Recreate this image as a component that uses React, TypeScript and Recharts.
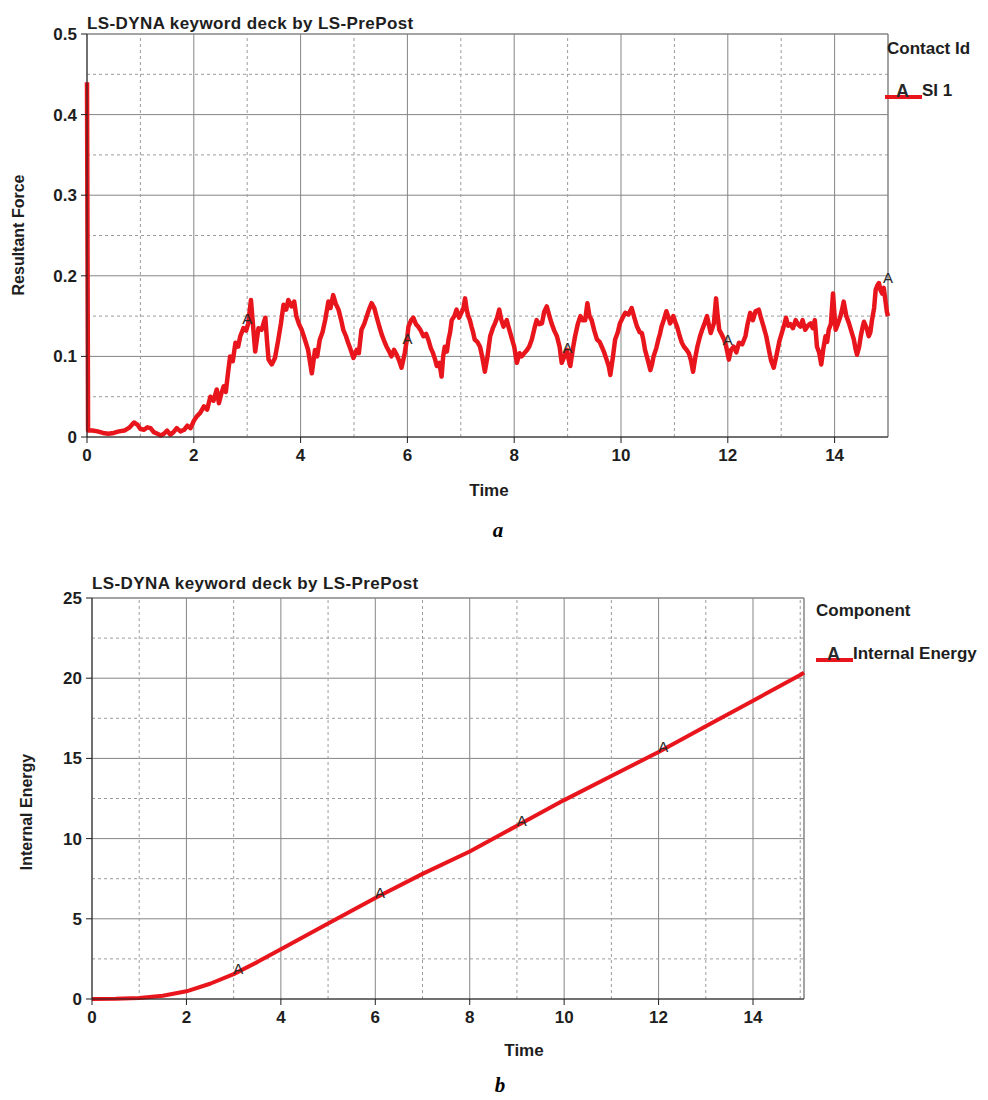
import React from 'react';
import {
  ComposedChart,
  Line,
  Scatter,
  XAxis,
  YAxis,
  CartesianGrid,
  ReferenceLine,
} from 'recharts';

const forceSamples: [number, number][] = [
  [0, 0.44], [0.02, 0.008], [0.1, 0.008], [0.2, 0.007], [0.3, 0.005], [0.4, 0.004],
  [0.5, 0.005], [0.6, 0.007], [0.7, 0.008], [0.8, 0.012], [0.88, 0.018], [0.95, 0.015],
  [1.0, 0.01], [1.07, 0.009], [1.13, 0.012], [1.19, 0.011], [1.25, 0.006], [1.32, 0.004],
  [1.38, 0.002], [1.44, 0.004], [1.5, 0.008], [1.56, 0.003], [1.62, 0.006], [1.68, 0.011],
  [1.75, 0.007], [1.82, 0.009], [1.88, 0.014], [1.94, 0.011], [2.0, 0.02], [2.06, 0.026],
  [2.12, 0.03], [2.19, 0.038], [2.25, 0.034], [2.31, 0.05], [2.37, 0.045], [2.43, 0.059],
  [2.47, 0.042], [2.52, 0.055], [2.56, 0.063], [2.6, 0.056], [2.64, 0.079], [2.68, 0.1],
  [2.73, 0.094], [2.78, 0.117], [2.83, 0.112], [2.87, 0.125], [2.93, 0.135], [2.98, 0.132],
  [3.02, 0.141], [3.07, 0.17], [3.12, 0.13], [3.15, 0.106], [3.21, 0.135], [3.27, 0.133],
  [3.31, 0.142], [3.34, 0.148], [3.37, 0.12], [3.4, 0.096], [3.46, 0.09], [3.52, 0.098],
  [3.58, 0.12], [3.63, 0.14], [3.68, 0.164], [3.73, 0.158], [3.77, 0.17], [3.83, 0.162],
  [3.88, 0.168], [3.92, 0.15], [3.97, 0.14], [4.02, 0.133], [4.08, 0.121], [4.14, 0.108],
  [4.21, 0.079], [4.27, 0.108], [4.31, 0.1], [4.36, 0.121], [4.41, 0.13], [4.46, 0.145],
  [4.52, 0.168], [4.56, 0.16], [4.61, 0.176], [4.66, 0.165], [4.71, 0.158], [4.76, 0.145],
  [4.8, 0.133], [4.85, 0.125], [4.89, 0.117], [4.94, 0.108], [4.99, 0.098], [5.05, 0.108],
  [5.09, 0.104], [5.14, 0.133], [5.19, 0.14], [5.24, 0.15], [5.28, 0.158], [5.33, 0.166],
  [5.38, 0.16], [5.42, 0.15], [5.47, 0.138], [5.52, 0.127], [5.56, 0.12], [5.61, 0.112],
  [5.66, 0.106], [5.7, 0.1], [5.75, 0.108], [5.8, 0.102], [5.85, 0.094], [5.89, 0.086],
  [5.95, 0.104], [6.0, 0.125], [6.02, 0.137], [6.07, 0.145], [6.11, 0.148], [6.16, 0.14],
  [6.2, 0.137], [6.25, 0.132], [6.3, 0.125], [6.35, 0.128], [6.39, 0.121], [6.44, 0.11],
  [6.48, 0.104], [6.52, 0.096], [6.55, 0.088], [6.6, 0.092], [6.64, 0.075], [6.67, 0.1],
  [6.7, 0.112], [6.74, 0.106], [6.77, 0.121], [6.8, 0.13], [6.83, 0.145], [6.88, 0.15],
  [6.92, 0.158], [6.97, 0.148], [7.01, 0.154], [7.05, 0.16], [7.08, 0.172], [7.11, 0.158],
  [7.14, 0.15], [7.17, 0.145], [7.2, 0.137], [7.23, 0.13], [7.26, 0.121], [7.31, 0.118],
  [7.36, 0.112], [7.4, 0.1], [7.45, 0.081], [7.5, 0.1], [7.55, 0.125], [7.6, 0.135],
  [7.64, 0.141], [7.68, 0.148], [7.72, 0.158], [7.76, 0.145], [7.8, 0.137], [7.86, 0.145],
  [7.9, 0.135], [7.96, 0.121], [8.0, 0.112], [8.05, 0.092], [8.1, 0.104], [8.14, 0.1],
  [8.19, 0.104], [8.24, 0.108], [8.28, 0.112], [8.33, 0.121], [8.38, 0.135], [8.42, 0.145],
  [8.47, 0.14], [8.52, 0.141], [8.56, 0.155], [8.61, 0.162], [8.66, 0.15], [8.7, 0.141],
  [8.75, 0.132], [8.8, 0.125], [8.85, 0.112], [8.89, 0.092], [8.94, 0.1], [8.99, 0.108],
  [9.02, 0.096], [9.05, 0.088], [9.1, 0.11], [9.14, 0.125], [9.19, 0.14], [9.24, 0.15],
  [9.28, 0.145], [9.33, 0.145], [9.37, 0.166], [9.41, 0.15], [9.45, 0.145], [9.5, 0.132],
  [9.55, 0.121], [9.6, 0.118], [9.64, 0.112], [9.69, 0.104], [9.73, 0.096], [9.77, 0.088],
  [9.8, 0.077], [9.85, 0.1], [9.89, 0.121], [9.94, 0.13], [9.98, 0.141], [10.03, 0.148],
  [10.08, 0.154], [10.14, 0.152], [10.2, 0.16], [10.25, 0.148], [10.3, 0.137], [10.35, 0.13],
  [10.39, 0.129], [10.42, 0.12], [10.45, 0.108], [10.5, 0.096], [10.55, 0.083], [10.58, 0.09],
  [10.61, 0.1], [10.66, 0.11], [10.7, 0.121], [10.73, 0.128], [10.76, 0.137], [10.8, 0.145],
  [10.85, 0.156], [10.89, 0.148], [10.92, 0.141], [10.95, 0.145], [10.98, 0.15], [11.02, 0.142],
  [11.05, 0.137], [11.1, 0.125], [11.14, 0.117], [11.18, 0.112], [11.23, 0.108], [11.27, 0.104],
  [11.31, 0.095], [11.35, 0.081], [11.39, 0.098], [11.43, 0.112], [11.48, 0.125], [11.52, 0.133],
  [11.56, 0.14], [11.61, 0.15], [11.65, 0.138], [11.68, 0.129], [11.71, 0.135], [11.74, 0.141],
  [11.78, 0.172], [11.81, 0.15], [11.84, 0.133], [11.88, 0.128], [11.93, 0.121], [11.97, 0.112],
  [12.02, 0.096], [12.06, 0.108], [12.11, 0.112], [12.16, 0.105], [12.21, 0.117], [12.27, 0.115],
  [12.33, 0.125], [12.37, 0.14], [12.42, 0.154], [12.47, 0.145], [12.52, 0.156], [12.58, 0.158],
  [12.62, 0.148], [12.67, 0.137], [12.72, 0.125], [12.77, 0.108], [12.81, 0.095], [12.86, 0.086],
  [12.92, 0.104], [12.97, 0.12], [13.02, 0.131], [13.06, 0.14], [13.09, 0.148], [13.13, 0.138],
  [13.17, 0.14], [13.22, 0.135], [13.27, 0.145], [13.31, 0.14], [13.36, 0.137], [13.4, 0.145],
  [13.45, 0.133], [13.5, 0.138], [13.55, 0.141], [13.59, 0.135], [13.63, 0.145], [13.67, 0.112],
  [13.71, 0.105], [13.75, 0.09], [13.79, 0.11], [13.83, 0.125], [13.86, 0.118], [13.89, 0.133],
  [13.93, 0.14], [13.97, 0.178], [14.0, 0.15], [14.02, 0.133], [14.06, 0.14], [14.11, 0.15],
  [14.14, 0.158], [14.17, 0.168], [14.22, 0.15], [14.27, 0.141], [14.31, 0.132], [14.36, 0.121],
  [14.39, 0.11], [14.42, 0.102], [14.46, 0.112], [14.49, 0.125], [14.52, 0.135], [14.55, 0.143],
  [14.6, 0.135], [14.64, 0.125], [14.67, 0.13], [14.7, 0.145], [14.74, 0.16], [14.77, 0.183],
  [14.8, 0.188], [14.83, 0.191], [14.86, 0.182], [14.89, 0.178], [14.92, 0.185], [14.95, 0.17],
  [14.98, 0.155], [15.0, 0.15],
];
const forceMarkers: [number, number][] = [[3, 0.147], [6, 0.122], [9, 0.11], [12, 0.12], [15, 0.197]];
const forceXTicks = [0, 2, 4, 6, 8, 10, 12, 14];
const forceXMinor = [1, 3, 5, 7, 9, 11, 13];
const forceYTicks = [0, 0.1, 0.2, 0.3, 0.4, 0.5];
const forceYMinor = [0.05, 0.15, 0.25, 0.35, 0.45];

const energyTime = [0, 0.5, 1, 1.5, 2, 2.5, 3, 3.5, 4, 5, 6, 7, 8, 9, 10, 11, 12, 13, 14, 15, 15.08];
const energyValue = [0, 0.01, 0.06, 0.2, 0.48, 0.95, 1.55, 2.3, 3.1, 4.7, 6.3, 7.8, 9.2, 10.8, 12.4, 13.9, 15.4, 17.0, 18.6, 20.2, 20.35];
const energyMarkers: [number, number][] = [[3.1, 1.9], [6.1, 6.6], [9.1, 11.1], [12.1, 15.7]];
const energyXTicks = [0, 2, 4, 6, 8, 10, 12, 14];
const energyXMinor = [1, 3, 5, 7, 9, 11, 13, 15];
const energyYTicks = [0, 5, 10, 15, 20, 25];
const energyYMinor = [2.5, 7.5, 12.5, 17.5, 22.5];

const RED = '#e8161c';
const INK = '#1e1e1e';
const FONT = '"Liberation Sans", Arial, sans-serif';

const tickStyle = { fill: INK, fontSize: 17, fontWeight: 700, fontFamily: FONT };

// the "A" curve label drawn at every marker point
const markerA = (props: any) => (
  <text
    x={props.cx}
    y={props.cy + 5}
    textAnchor="middle"
    fontSize={15}
    fontFamily={FONT}
    fill="#2a2a2a"
  >
    A
  </text>
);

interface PanelProps {
  top: number;
  data: { t: number; v: number }[];
  markers: { t: number; v: number }[];
  xDomain: [number, number];
  yDomain: [number, number];
  xTicks: number[];
  xMinor: number[];
  yTicks: number[];
  yMinor: number[];
  margin: { top: number; right: number; bottom: number; left: number };
  strokeWidth: number;
}

const Panel: React.FC<PanelProps> = (p) => (
  <div style={{ position: 'absolute', left: 0, top: p.top }}>
    <ComposedChart width={988} height={540} data={p.data} margin={p.margin}>
      <CartesianGrid stroke="#858585" strokeWidth={1} />
      {p.xMinor.map((x) => (
        <ReferenceLine key={'x' + x} x={x} stroke="#9c9c9c" strokeDasharray="3 3" />
      ))}
      {p.yMinor.map((y) => (
        <ReferenceLine key={'y' + y} y={y} stroke="#9c9c9c" strokeDasharray="3 3" />
      ))}
      <ReferenceLine x={p.xDomain[1]} stroke="#858585" />
      <ReferenceLine y={p.yDomain[1]} stroke="#858585" />
      <XAxis
        type="number"
        dataKey="t"
        domain={p.xDomain}
        ticks={p.xTicks}
        height={30}
        tickSize={6}
        tickMargin={6}
        stroke={INK}
        tick={tickStyle}
      />
      <YAxis
        type="number"
        domain={p.yDomain}
        ticks={p.yTicks}
        width={60}
        tickSize={6}
        tickMargin={4}
        stroke={INK}
        tick={tickStyle}
      />
      <Line
        type="linear"
        dataKey="v"
        stroke={RED}
        strokeWidth={p.strokeWidth}
        strokeLinejoin="round"
        dot={false}
        isAnimationActive={false}
      />
      <Scatter data={p.markers} dataKey="v" shape={markerA} isAnimationActive={false} />
    </ComposedChart>
  </div>
);

const text = (extra: React.CSSProperties): React.CSSProperties => ({
  position: 'absolute',
  fontFamily: FONT,
  fontWeight: 700,
  fontSize: 17,
  lineHeight: '17px',
  color: INK,
  whiteSpace: 'nowrap',
  ...extra,
});

const LegendItem: React.FC<{ left: number; top: number; label: string }> = ({ left, top, label }) => (
  <>
    <div style={{ position: 'absolute', left, top: top + 13, width: 37, height: 4, background: RED }} />
    <div style={text({ left: left + 11, top: top + 1, fontSize: 18, color: '#2a2a2a' })}>A</div>
    <div style={text({ left: left + 37, top })}>{label}</div>
  </>
);

export default function App() {
  const forceData = forceSamples.map(([t, v]) => ({ t, v }));
  const energyData = energyTime.map((t, i) => ({ t, v: energyValue[i] }));
  const fMarks = forceMarkers.map(([t, v]) => ({ t, v }));
  const eMarks = energyMarkers.map(([t, v]) => ({ t, v }));

  return (
    <div style={{ position: 'absolute', left: 0, top: 0, width: 988, height: 1100, background: '#fff' }}>
      <Panel
        top={0}
        data={forceData}
        markers={fMarks}
        xDomain={[0, 15]}
        yDomain={[0, 0.5]}
        xTicks={forceXTicks}
        xMinor={forceXMinor}
        yTicks={forceYTicks}
        yMinor={forceYMinor}
        margin={{ top: 34, right: 100, bottom: 73, left: 27 }}
        strokeWidth={4.5}
      />
      <div style={text({ left: 87, top: 15, letterSpacing: 0.4 })}>LS-DYNA keyword deck by LS-PrePost</div>
      <div style={text({ left: 18, top: 235, fontSize: 16, transform: 'translate(-50%, -50%) rotate(-90deg)' })}>
        Resultant Force
      </div>
      <div style={text({ left: 489, top: 482, transform: 'translateX(-50%)' })}>Time</div>
      <div style={text({ left: 887, top: 40 })}>Contact Id</div>
      <LegendItem left={885} top={82} label="SI 1" />
      <div style={{ position: 'absolute', left: 498, top: 530, transform: 'translate(-50%, -50%)', fontFamily: '"Liberation Serif", serif', fontStyle: 'italic', fontWeight: 700, fontSize: 21 }}>
        a
      </div>

      <Panel
        top={560}
        data={energyData}
        markers={eMarks}
        xDomain={[0, 15.08]}
        yDomain={[0, 25]}
        xTicks={energyXTicks}
        xMinor={energyXMinor}
        yTicks={energyYTicks}
        yMinor={energyYMinor}
        margin={{ top: 38, right: 184, bottom: 71, left: 32 }}
        strokeWidth={4}
      />
      <div style={text({ left: 92, top: 575, letterSpacing: 0.4 })}>LS-DYNA keyword deck by LS-PrePost</div>
      <div style={text({ left: 26, top: 812, fontSize: 16, transform: 'translate(-50%, -50%) rotate(-90deg)' })}>
        Internal Energy
      </div>
      <div style={text({ left: 524, top: 1042, transform: 'translateX(-50%)' })}>Time</div>
      <div style={text({ left: 816, top: 602 })}>Component</div>
      <LegendItem left={816} top={645} label="Internal Energy" />
      <div style={{ position: 'absolute', left: 500, top: 1085, transform: 'translate(-50%, -50%)', fontFamily: '"Liberation Serif", serif', fontStyle: 'italic', fontWeight: 700, fontSize: 21 }}>
        b
      </div>
    </div>
  );
}
